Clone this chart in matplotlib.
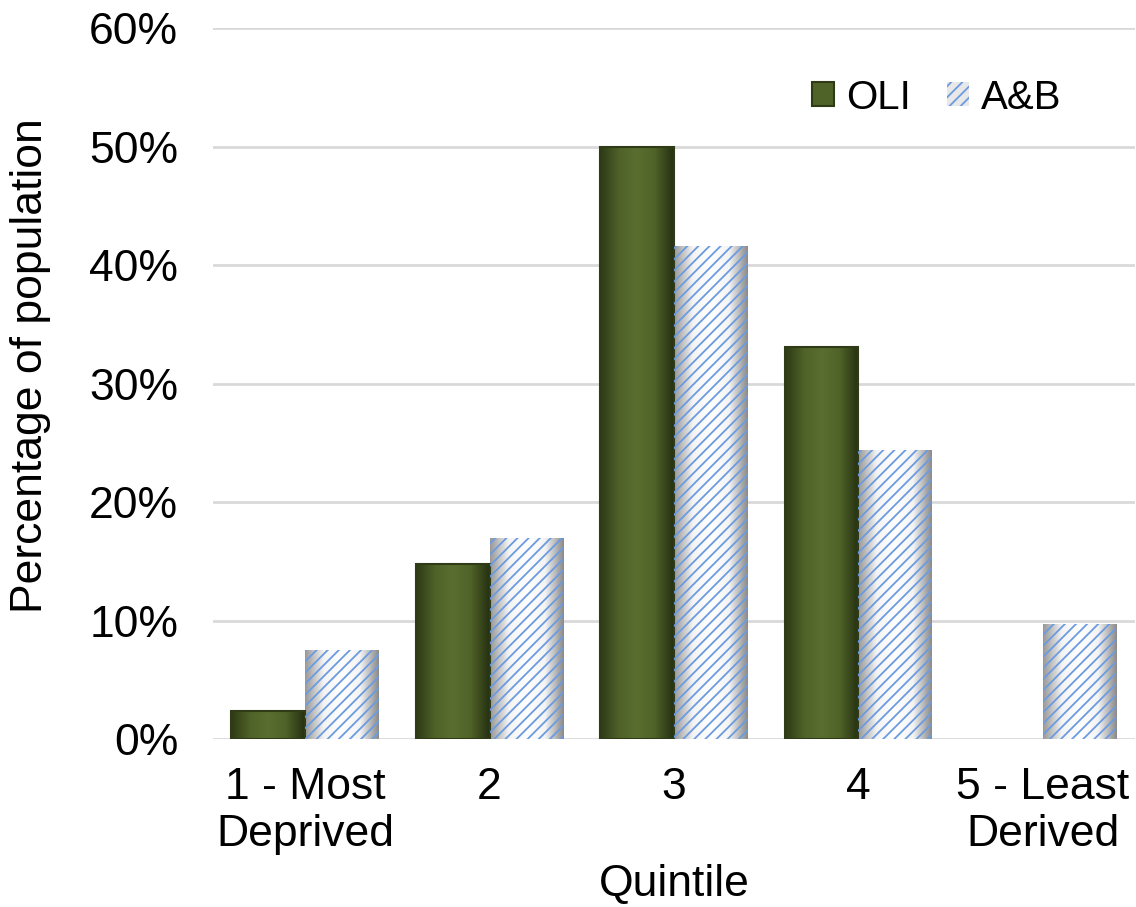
import numpy as np
import matplotlib.pyplot as plt
from matplotlib.colors import LinearSegmentedColormap

plt.rcParams['font.family'] = ['Liberation Sans', 'DejaVu Sans']
plt.rcParams['hatch.linewidth'] = 1.3

quintiles = ["1 - Most\nDeprived", "2", "3", "4", "5 - Least\nDerived"]
oli = [2.4, 14.8, 50.0, 33.1, 0.0]
ab = [7.5, 17.0, 41.6, 24.4, 9.7]

FS = 32

fig = plt.figure(figsize=(11.36, 9.07), dpi=100)
ax = fig.add_axes([0.1875, 0.185, 0.8115, 0.784])

x = np.arange(len(quintiles))
w = 0.4

oli_bars = ax.bar(x - w / 2, oli, w, color="#4f6228", edgecolor="#2f3b17",
                  linewidth=1.5, label="OLI", zorder=3)
ab_bars = ax.bar(x + w / 2, ab, w, color="white", edgecolor="#6b9be0",
                 hatch="///", linewidth=0, label="A&B", zorder=3)
for b in oli_bars:
    if b.get_height() <= 0:
        b.set_linewidth(0)

# soft side shading so the bars look bevelled
def shade(bars, cmap):
    grad = np.linspace(0, 1, 64).reshape(1, -1)
    for b in bars:
        if b.get_height() <= 0:
            continue
        x0, y0 = b.get_x(), b.get_y()
        im = ax.imshow(grad, cmap=cmap, aspect="auto", zorder=2,
                       extent=[x0, x0 + b.get_width(), y0, y0 + b.get_height()])
        im.set_clip_path(b)

green = LinearSegmentedColormap.from_list(
    "g", ["#2e3a16", "#4f6228", "#5a6e30", "#4f6228", "#263112"])
grey = LinearSegmentedColormap.from_list(
    "w", ["#9a9a9a", "#f4f4f4", "#ffffff", "#f4f4f4", "#8c8c8c"])
for b in oli_bars:
    b.set_facecolor("none")
for b in ab_bars:
    b.set_facecolor("none")
shade(oli_bars, green)
shade(ab_bars, grey)

ax.set_xlim(-0.5, 4.5)
ax.set_ylim(0, 60)
ax.set_yticks(np.arange(0, 61, 10))
ax.set_yticklabels([f"{v}%" for v in range(0, 61, 10)], fontsize=FS)
ax.set_xticks(x)
ax.set_xticklabels(quintiles, fontsize=FS, linespacing=1.2)
ax.tick_params(axis="y", length=0, pad=25)
ax.tick_params(axis="x", length=0, pad=20)
ax.grid(axis="y", color="#d9d9d9", linewidth=2, zorder=0)
for s in ax.spines.values():
    s.set_visible(False)

ax.set_ylabel("Percentage of population", fontsize=FS)
ax.yaxis.set_label_coords(-0.176, 0.526)
ax.set_xlabel("Quintile", fontsize=FS, labelpad=6)

leg = ax.legend(loc="upper right", bbox_to_anchor=(0.96, 0.98), frameon=False,
                fontsize=29, ncol=2, handlelength=0.55, handleheight=0.55,
                handletextpad=0.3, columnspacing=0.9)
leg.legend_handles[0].set_facecolor("#4f6228")
leg.legend_handles[1].set_facecolor("#e8e8e8")

fig.savefig("out.png", dpi=100)
